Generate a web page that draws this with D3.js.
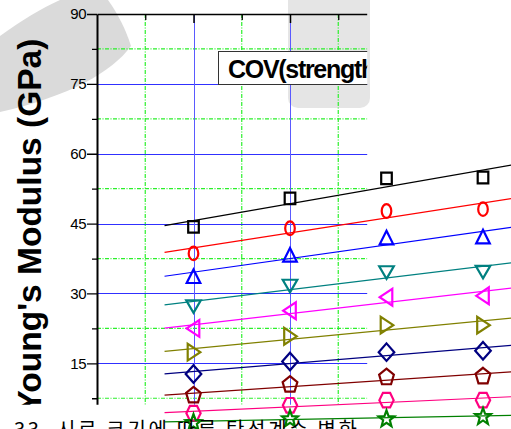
<!DOCTYPE html>
<html>
<head>
<meta charset="utf-8">
<script src="https://cdn.jsdelivr.net/npm/d3@7"></script>
<style>
  html, body { margin: 0; padding: 0; background: #fff; overflow: hidden; }
  svg { display: block; }
</style>
</head>
<body>
<svg id="chart" width="511" height="429"></svg>
<script>
// ---- data ----
const sizes = [1, 2, 3, 4];
const seriesSquare   = [44.3, 50.4, 54.7, 54.9];
const seriesCircle   = [38.6, 44.0, 47.7, 48.1];
const seriesUp       = [33.6, 38.2, 41.9, 42.1];
const seriesDown     = [27.3, 31.7, 34.6, 34.7];
const seriesLeft     = [22.5, 26.3, 29.2, 29.5];
const seriesRight    = [17.4, 20.8, 23.2, 23.2];
const seriesDiamond  = [12.7, 15.4, 17.4, 17.7];
const seriesPentagon = [8.1, 10.4, 12.0, 12.2];
const seriesHexagon  = [4.3, 6.0, 7.1, 7.1];
const seriesStar     = [2.4, 3.2, 3.2, 3.7];

const yMajorTicks = [15, 30, 45, 60, 75, 90];
const yMinorTicks = [7.5, 22.5, 37.5, 52.5, 67.5, 82.5];
const xMajorTicks = [1, 2];
const xMinorTicks = [0.5, 1.5, 2.5];

const yTitle = "Young's Modulus (GPa)";
const legendLabel = "COV(strength)";
const caption = "33. 시료 크기에 따른 탄성계수 변화";

// ---- styling per series ----
const series = [
  { values: seriesSquare,   color: "#000000", shape: "square" },
  { values: seriesCircle,   color: "#ff0000", shape: "circle" },
  { values: seriesUp,       color: "#0000ff", shape: "up" },
  { values: seriesDown,     color: "#008080", shape: "down" },
  { values: seriesLeft,     color: "#ff00ff", shape: "left" },
  { values: seriesRight,    color: "#808000", shape: "right" },
  { values: seriesDiamond,  color: "#000080", shape: "diamond" },
  { values: seriesPentagon, color: "#800000", shape: "pentagon" },
  { values: seriesHexagon,  color: "#ff0080", shape: "hexagon" },
  { values: seriesStar,     color: "#008000", shape: "star" }
];

const svg = d3.select("#chart");

// ---- scales ----
const x = d3.scaleLinear().domain([0, 4]).range([97, 483]);
const y = d3.scaleLinear().domain([0, 90]).range([433.2, 14]);

const frameRight = x(2.8);
const frameBottom = y(6.1);

// clip for the framed plot (grid, axes, title, legend)
svg.append("defs").append("clipPath").attr("id", "frameClip")
  .append("rect").attr("x", 0).attr("y", 0)
  .attr("width", frameRight).attr("height", frameBottom);

// ---- background emblem shapes ----
const bg = svg.append("g");
bg.append("path")
  .attr("d", "M0,36 C22,20 42,8 60,0 L108,0 C118,14 126,30 131,46 C112,72 70,96 0,112 Z")
  .attr("fill", "#dadada");
bg.append("rect")
  .attr("x", 288).attr("y", -12).attr("width", 82).attr("height", 120)
  .attr("rx", 10).attr("fill", "#e5e5e5");

const frame = svg.append("g").attr("clip-path", "url(#frameClip)");

// ---- grid ----
const grid = frame.append("g");
const minorStyle = sel => sel.attr("stroke", "#2af02a").attr("stroke-width", 1.2)
  .attr("stroke-dasharray", "4,1.5,1,1.5");

grid.selectAll("line.hmin").data(yMinorTicks).join("line").attr("class", "hmin")
  .attr("x1", x(0)).attr("x2", x(4))
  .attr("y1", d => y(d)).attr("y2", d => y(d))
  .call(minorStyle);
grid.selectAll("line.vmin").data(xMinorTicks).join("line").attr("class", "vmin")
  .attr("x1", d => x(d)).attr("x2", d => x(d))
  .attr("y1", y(90)).attr("y2", y(0))
  .call(minorStyle);
grid.selectAll("line.hmaj").data(yMajorTicks.filter(d => d < 90)).join("line").attr("class", "hmaj")
  .attr("x1", x(0)).attr("x2", x(4))
  .attr("y1", d => Math.round(y(d)) + 0.5).attr("y2", d => Math.round(y(d)) + 0.5)
  .attr("stroke", "#3030ff").attr("stroke-width", 1);
grid.selectAll("line.vmaj").data(xMajorTicks).join("line").attr("class", "vmaj")
  .attr("x1", d => Math.round(x(d)) + 0.5).attr("x2", d => Math.round(x(d)) + 0.5)
  .attr("y1", y(90)).attr("y2", y(0))
  .attr("stroke", "#5a5aff").attr("stroke-width", 1);

// ---- axes ----
const font = "'Liberation Sans', Arial, sans-serif";

const yAxis = frame.append("g").attr("transform", `translate(${x(0)},0)`)
  .call(d3.axisLeft(y).tickValues(yMajorTicks).tickSize(10).tickSizeOuter(0).tickPadding(1));
yAxis.select(".domain").attr("stroke", "#000").attr("stroke-width", 2);
yAxis.selectAll(".tick line").attr("stroke", "#000").attr("stroke-width", 1.3);
yAxis.selectAll(".tick text").attr("font-family", font).attr("font-size", 15)
  .attr("fill", "#000").attr("letter-spacing", -0.5);

const yAxisMinor = frame.append("g").attr("transform", `translate(${x(0)},0)`)
  .call(d3.axisLeft(y).tickValues(yMinorTicks).tickSize(5).tickSizeOuter(0).tickFormat(""));
yAxisMinor.select(".domain").remove();
yAxisMinor.selectAll(".tick line").attr("stroke", "#000").attr("stroke-width", 1.3);

const topAxis = frame.append("g").attr("transform", `translate(0,${y(90)})`)
  .call(d3.axisBottom(x).tickValues(xMajorTicks).tickSize(9).tickSizeOuter(0).tickFormat(""));
topAxis.select(".domain").attr("stroke", "#000").attr("stroke-width", 1.6);
topAxis.selectAll(".tick line").attr("stroke", "#000").attr("stroke-width", 1.5);

const topMinor = frame.append("g").attr("transform", `translate(0,${y(90)})`)
  .call(d3.axisBottom(x).tickValues(xMinorTicks).tickSize(6).tickSizeOuter(0).tickFormat(""));
topMinor.select(".domain").remove();
topMinor.selectAll(".tick line").attr("stroke", "#000").attr("stroke-width", 1.3);

// ---- axis title ----
frame.append("text")
  .attr("transform", `translate(41,${y(45) + 2}) rotate(-90)`)
  .attr("text-anchor", "middle")
  .attr("font-family", font).attr("font-weight", "bold").attr("font-size", 33.5)
  .attr("fill", "#000")
  .text(yTitle);

// ---- legend box ----
const legend = frame.append("g");
legend.append("rect")
  .attr("x", 218.5).attr("y", 51.5).attr("width", 200).attr("height", 33)
  .attr("fill", "#fff").attr("stroke", "#333").attr("stroke-width", 1);
legend.append("text")
  .attr("x", 228).attr("y", 77.5)
  .attr("font-family", font).attr("font-weight", "bold").attr("font-size", 25)
  .attr("letter-spacing", -1.3)
  .attr("fill", "#000")
  .text(legendLabel);

// ---- fit lines (least squares per series) ----
function fit(xs, ys) {
  const mx = d3.mean(xs), my = d3.mean(ys);
  const sxy = d3.sum(xs, (v, i) => (v - mx) * (ys[i] - my));
  const sxx = d3.sum(xs, v => (v - mx) * (v - mx));
  const b = sxy / sxx;
  return { a: my - b * mx, b };
}
const fitX = [0.7, 4.4];
const lines = svg.append("g");
series.forEach(s => {
  const f = fit(sizes, s.values);
  lines.append("path")
    .attr("d", d3.line().x(d => x(d)).y(d => y(f.a + f.b * d))(fitX))
    .attr("fill", "none").attr("stroke", s.color).attr("stroke-width", 1.2);
});

// ---- marker shapes (slightly narrow, as drawn) ----
function poly(pts) { return "M" + pts.map(p => p.join(",")).join("L") + "Z"; }
function regular(n, r, rot, sx) {
  const pts = [];
  for (let i = 0; i < n; i++) {
    const a = rot + i * 2 * Math.PI / n;
    pts.push([sx * r * Math.sin(a), -r * Math.cos(a)]);
  }
  return pts;
}
const shapes = {
  square: () => poly([[-5.3, -5.8], [5.3, -5.8], [5.3, 5.8], [-5.3, 5.8]]),
  circle: () => "M0,-6.8 A4.8,6.8 0 1,1 0,6.8 A4.8,6.8 0 1,1 0,-6.8Z",
  up: () => poly([[0, -7.3], [6.8, 6.3], [-6.8, 6.3]]),
  down: () => poly([[0, 6.8], [7.3, -5.8], [-7.3, -5.8]]),
  left: () => poly([[-6.8, 0], [5.8, -8.4], [5.8, 8.4]]),
  right: () => poly([[6.8, 0], [-5.8, -8.4], [-5.8, 8.4]]),
  diamond: () => poly([[0, -8.8], [7.8, 0], [0, 8.8], [-7.8, 0]]),
  pentagon: () => poly(regular(5, 8.6, 0, 0.9)),
  hexagon: () => poly(regular(6, 8.4, Math.PI / 6, 0.85)),
  star: () => {
    const pts = [];
    for (let i = 0; i < 10; i++) {
      const r = i % 2 === 0 ? 8.8 : 3.7;
      const a = i * Math.PI / 5;
      pts.push([0.95 * r * Math.sin(a), -r * Math.cos(a) + 0.8]);
    }
    return poly(pts);
  }
};

const marks = svg.append("g");
series.forEach(s => {
  marks.selectAll(null).data(sizes.map((v, i) => [v, s.values[i]])).join("path")
    .attr("transform", d => `translate(${x(d[0])},${y(d[1])})`)
    .attr("d", shapes[s.shape]())
    .attr("fill", "none").attr("stroke", s.color).attr("stroke-width", 2.2);
});

// ---- caption ----
svg.append("text")
  .attr("x", 14).attr("y", 437)
  .attr("font-family", "'Noto Sans CJK KR', sans-serif").attr("font-size", 20)
  .attr("textLength", 343).attr("lengthAdjust", "spacing")
  .attr("fill", "#000")
  .text(caption);
</script>
</body>
</html>
